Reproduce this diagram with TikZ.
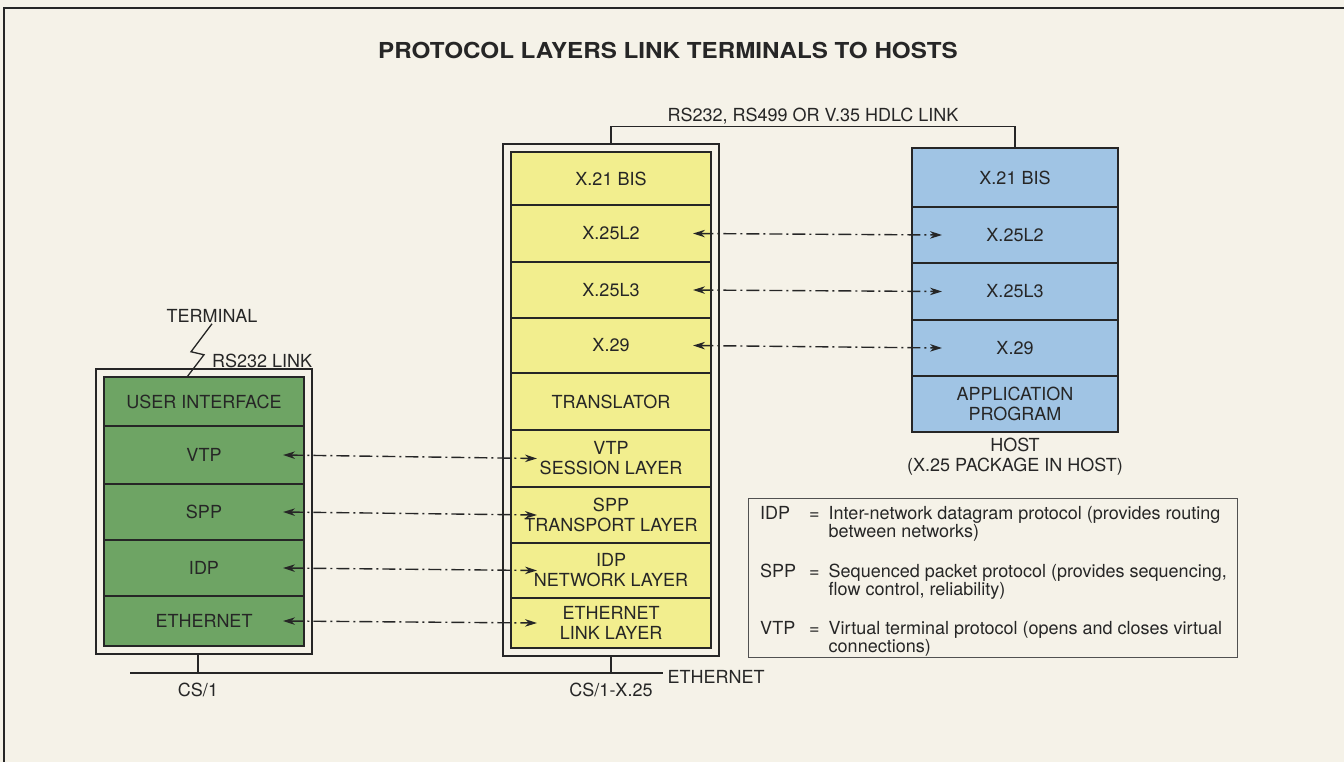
\documentclass[tikz,border=0pt]{standalone}
\usepackage{fontspec}
\setmainfont{TeX Gyre Heros}
\newfontfamily\titlefont[FakeStretch=1.1]{TeX Gyre Heros}
\usepackage{xcolor}
\usetikzlibrary{arrows.meta,calc,positioning,fit}

\definecolor{paper}{HTML}{F5F2E8}
\definecolor{ink}{HTML}{262626}
\definecolor{termgreen}{HTML}{6EA464}
\definecolor{gwyellow}{HTML}{F2EE8E}
\definecolor{hostblue}{HTML}{A0C4E4}

\newcommand{\lblfont}{\fontsize{18}{20}\selectfont}
\newcommand{\keyfont}{\fontsize{18}{17}\selectfont}

\tikzset{
  layer/.style={draw=ink, line width=1.3pt, minimum width=200pt, minimum height=#1,
    inner sep=0pt, outer sep=0pt, align=center, font=\lblfont, text=ink},
  tlayer/.style={layer=#1, fill=termgreen},
  glayer/.style={layer=#1, fill=gwyellow},
  hlayer/.style={layer=#1, fill=hostblue, minimum width=206pt},
  case/.style={draw=ink, line width=1.1pt, inner sep=8pt},
  wire/.style={draw=ink, line width=1.3pt},
  peer/.style={{Stealth[length=12pt,width=7.5pt]}-{Stealth[length=12pt,width=7.5pt]},
    draw=ink, line width=1.4pt, dash pattern=on 13pt off 4pt on 2pt off 4pt},
  lbl/.style={font=\lblfont, text=ink, inner sep=1pt},
}

\begin{document}
\begin{tikzpicture}[x=1pt,y=-1pt]
  \fill[paper] (0,0) rectangle (1344,762);
  \useasboundingbox (0,0) rectangle (1344,762);
  \draw[ink, line width=1.5pt] (4,762) -- (4,8);
  \draw[ink, line width=2.5pt] (3.25,8) -- (1344,8);

  \node[font=\titlefont\bfseries\fontsize{22}{24}\selectfont, text=ink] (title) at (668,50)
    {PROTOCOL LAYERS LINK TERMINALS TO HOSTS};

  % terminal
  \node[tlayer=49pt, anchor=north west] (tui) at (104,377) {USER INTERFACE};
  \node[tlayer=58pt, below=0pt of tui] (tvtp) {VTP};
  \node[tlayer=56pt, below=0pt of tvtp] (tspp) {SPP};
  \node[tlayer=56pt, below=0pt of tspp] (tidp) {IDP};
  \node[tlayer=50pt, below=0pt of tidp] (teth) {ETHERNET};
  \node[case, fit=(tui)(teth)] (cs1) {};

  \node[lbl] (termlbl) at (212,316) {TERMINAL};
  \draw[wire] (termlbl.south) -- ++(-21,28) -- ++(13,3) -- ($(tui.north west)+(83,0)$);
  \node[lbl, anchor=west] (linklbl) at (211,361) {RS232 LINK};

  % gateway
  \node[glayer=53pt, anchor=north west] (gx21) at (511,152) {X.21 BIS};
  \node[glayer=57pt, below=0pt of gx21] (gl2) {X.25L2};
  \node[glayer=56pt, below=0pt of gl2] (gl3) {X.25L3};
  \node[glayer=55pt, below=0pt of gl3] (gx29) {X.29};
  \node[glayer=57pt, below=0pt of gx29] (gtr) {TRANSLATOR};
  \node[glayer=57pt, below=0pt of gtr] (gvtp) {VTP\\SESSION LAYER};
  \node[glayer=56pt, below=0pt of gvtp] (gspp) {SPP\\TRANSPORT LAYER};
  \node[glayer=55pt, below=0pt of gspp] (gidp) {IDP\\NETWORK LAYER};
  \node[glayer=50pt, below=0pt of gidp] (geth) {ETHERNET\\LINK LAYER};
  \node[case, fit=(gx21)(geth)] (gw) {};

  % host
  \node[hlayer=59pt, anchor=north west] (hx21) at (912,148) {X.21 BIS};
  \node[hlayer=56pt, below=0pt of hx21] (hl2) {X.25L2};
  \node[hlayer=57pt, below=0pt of hl2] (hl3) {X.25L3};
  \node[hlayer=56pt, below=0pt of hl3] (hx29) {X.29};
  \node[hlayer=56pt, below=0pt of hx29] (happ) {APPLICATION\\PROGRAM};
  \node[lbl, align=center, below=5pt of happ] (hostlbl) {HOST\\(X.25 PACKAGE IN HOST)};

  \draw[wire] (gw.north) -- ++(0,-17) -| node[lbl, pos=0.25, above, inner sep=2pt] (hdlc)
    {RS232, RS499 OR V.35 HDLC LINK} (hx21.north);

  % peer protocols
  \draw[peer] ([xshift=-21pt]tvtp.east) -- ([xshift=26pt]gvtp.west);
  \draw[peer] ([xshift=-21pt]tspp.east) -- ([xshift=26pt]gspp.west);
  \draw[peer] ([xshift=-21pt]tidp.east) -- ([xshift=26pt]gidp.west);
  \draw[peer] ([xshift=-21pt]teth.east) -- ([xshift=26pt]geth.west);
  \draw[peer] ([xshift=-18pt]gl2.east) -- ([xshift=30pt]hl2.west);
  \draw[peer] ([xshift=-18pt]gl3.east) -- ([xshift=30pt]hl3.west);
  \draw[peer] ([xshift=-18pt]gx29.east) -- ([xshift=30pt]hx29.west);

  % ethernet
  \coordinate (busw) at (130,673);
  \coordinate (buse) at (663,673);
  \draw[wire] (busw) -- (buse) node[lbl, right=3pt, yshift=-4pt] (ethlbl) {ETHERNET};
  \draw[wire] ([xshift=-6pt]cs1.south) -- ([xshift=-6pt]cs1.south |- busw)
    node[lbl, below=8pt] (cs1lbl) {CS/1};
  \draw[wire] (gw.south) -- (gw.south |- busw) node[lbl, below=8pt] (gwlbl) {CS/1-X.25};

  % key
  \node[draw=ink!80, line width=0.8pt, anchor=north west, minimum width=489pt,
    minimum height=159pt, inner sep=0pt] (key) at (748,498) {};
  \node[anchor=north west, inner sep=0pt, font=\keyfont, text=ink] (keytxt) at (760,506) {%
    \begin{tabular}{@{}l@{\hspace{13pt}}l@{\hspace{9pt}}l@{}}
      IDP & = & Inter-network datagram protocol (provides routing\\
          &   & between networks)\\[21pt]
      SPP & = & Sequenced packet protocol (provides sequencing,\\
          &   & flow control, reliability)\\[21pt]
      VTP & = & Virtual terminal protocol (opens and closes virtual\\
          &   & connections)
    \end{tabular}};
\end{tikzpicture}
\end{document}
